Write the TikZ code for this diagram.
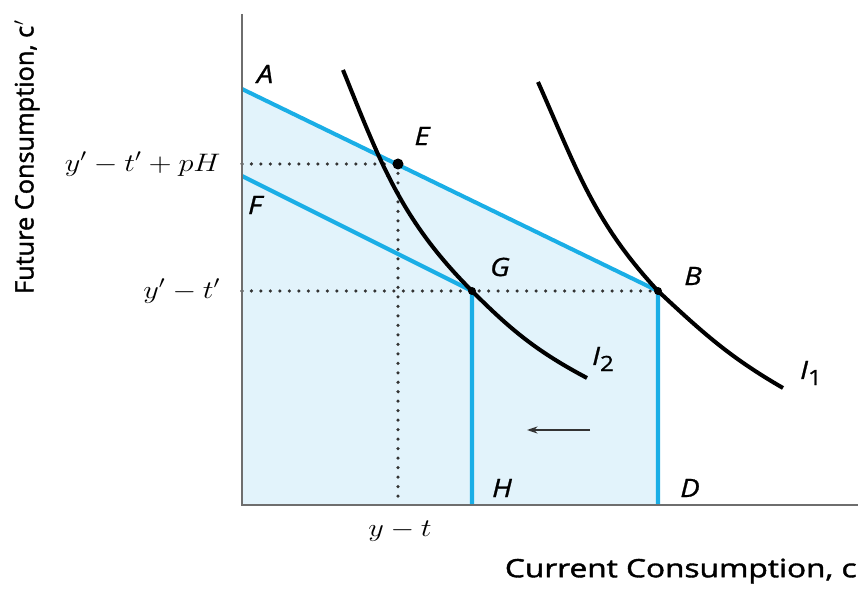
\documentclass[tikz,border=0pt]{standalone}
\usepackage{fontspec}
\setsansfont{Open Sans}
\newfontfamily\titlefont[FakeBold=1.5]{Open Sans}
\newfontfamily\ptfont[FakeBold=0.8]{Open Sans}
\usepackage{tikz}
\usetikzlibrary{arrows.meta}
\definecolor{budgetblue}{HTML}{1AAEE6}
\definecolor{setfill}{HTML}{E2F3FB}
\definecolor{axisgray}{HTML}{6E6E6E}

\tikzset{
  axisline/.style={line width=1.2pt, draw=axisgray},
  budget/.style={line width=2.3pt, draw=budgetblue},
  indiff/.style={line width=2.3pt, draw=black},
  guide/.style={line width=2pt, dash pattern=on 0pt off 5.4pt, line cap=round, draw=black!80},
  ptlabel/.style={font=\ptfont\itshape\Large, inner sep=1pt, xscale=1.15},
  vallabel/.style={font=\Large, inner sep=1pt, xscale=1.2},
  axlabel/.style={font=\titlefont\Large, inner sep=0pt}
}
\newcommand{\sublbl}[1]{{\upshape\raisebox{-0.45ex}{\large #1}}}

\begin{document}
\begin{tikzpicture}
  \useasboundingbox (-4.84,-1.68) rectangle (12.34,10.1);

  % key points
  \coordinate (O) at (0,0);
  \coordinate (A) at (0,8.32);
  \coordinate (F) at (0,6.58);
  \coordinate (E) at (3.12,6.82);
  \coordinate (G) at (4.6,4.28);
  \coordinate (B) at (8.32,4.28);
  \coordinate (H) at (4.6,0);
  \coordinate (D) at (8.32,0);
  \coordinate (Ex) at (3.12,0);
  \coordinate (Ey) at (0,6.82);
  \coordinate (Gy) at (0,4.28);
  \coordinate (yTop) at (0,9.82);
  \coordinate (xEnd) at (12.32,0);

  % feasible set
  \fill[setfill] (A) -- (B) -- (D) -- (O) -- cycle;

  % guides
  \draw[guide] (Ey) -- (E);
  \draw[guide] (E) -- (Ex);
  \draw[guide] (Gy) -- (B);

  % budget lines
  \draw[budget] (A) -- (B) -- (D);
  \draw[budget] (F) -- (G) -- (H);

  % axes
  \draw[axisline] (yTop) -- (O) -- (xEnd);

  % indifference curves
  \draw[indiff] (2.02,8.7) to[out=-68, in=135] (G)
    to[out=-45, in=152] (6.9,2.54) coordinate (Itwo);
  \draw[indiff] (5.92,8.46) to[out=-66, in=133] (B)
    to[out=-43, in=150] (10.82,2.34) coordinate (Ione);

  \fill (E) circle (0.11);
  \fill (G) circle (0.08);
  \fill (B) circle (0.08);

  % shift arrow
  \coordinate (arrFrom) at (6.96,1.5);
  \coordinate (arrTo) at (5.7,1.5);
  \draw[-{Stealth[length=6pt, width=4pt]}, line width=0.7pt, black!80] (arrFrom) -- (arrTo);

  % point labels
  \node[ptlabel] (lA) at (0.46,8.62) {A};
  \node[ptlabel] (lE) at (3.6,7.38) {E};
  \node[ptlabel] (lF) at (0.26,6.0) {F};
  \node[ptlabel] (lG) at (5.16,4.76) {G};
  \node[ptlabel] (lB) at (9.02,4.58) {B};
  \node[ptlabel] (lH) at (5.2,0.34) {H};
  \node[ptlabel] (lD) at (8.96,0.34) {D};
  \node[ptlabel] (lItwo) at (7.22,2.92) {I\sublbl{2}};
  \node[ptlabel] (lIone) at (11.38,2.64) {I\sublbl{1}};

  % value labels
  \node[vallabel, anchor=east] (vEy) at (-0.38,6.82) {$y' - t' + pH$};
  \node[vallabel, anchor=east] (vGy) at (-0.38,4.28) {$y' - t'$};
  \node[vallabel] (vEx) at (3.16,-0.52) {$y - t$};

  % axis titles
  \node[axlabel, anchor=east, xscale=1.25] (xTitle) at (12.3,-1.32) {Current Consumption, c};
  \node[axlabel, rotate=90] (yTitle) at (-4.3,6.96) {Future Consumption, c$'$};
\end{tikzpicture}
\end{document}
